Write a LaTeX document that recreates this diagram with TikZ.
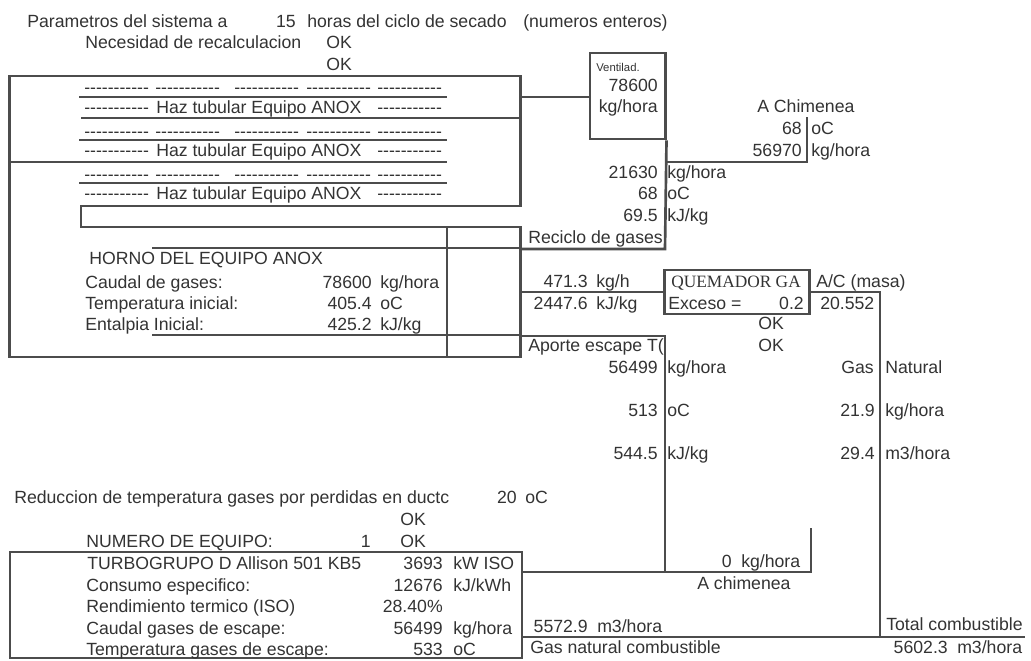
\documentclass[tikz,border=0pt]{standalone}
\usepackage{fontspec}
\setmainfont{Liberation Sans}
\newfontfamily\quemfont{Liberation Serif}
\usepackage{xcolor}
\usepackage{tikz}
\usetikzlibrary{positioning, arrows.meta}
\definecolor{tinta}{gray}{0.2}
\definecolor{linea}{gray}{0.3}
\newcommand{\rayas}{-{}-{}-{}-{}-{}-{}-{}-{}-{}-{}-}
\tikzset{
    txt/.style={inner sep=0pt, text=tinta, yshift=-2.2pt, font=\fontsize{13.25}{15}\selectfont},
    izq/.style={txt, anchor=mid west},
    der/.style={txt, anchor=mid east},
    caja/.style={draw=linea, line width=2pt, inner sep=0pt},
    tubo/.style={draw=linea, line width=2pt},
    fino/.style={draw=linea, line width=1pt}
}

\begin{document}
\begin{tikzpicture}[x=0.75pt,y=-0.75pt]
        \useasboundingbox (0,0) rectangle (1031,660);

        % Boxes
        \node (vent) [caja, minimum width=56.5pt, minimum height=64.5pt] at (627.5,96) {};
        \node (quem) [caja, minimum width=109pt, minimum height=33pt] at (737,292) {};
        \node (turbo) [caja, minimum width=384pt, minimum height=79.5pt] at (266,605) {};

        % Corners of the furnace
        \coordinate (a1) at (9.5,76);
        \coordinate (a2) at (520.5,76);
        \coordinate (a3) at (520.5,206);
        \coordinate (a4) at (81,206);
        \coordinate (a5) at (81,227);
        \coordinate (a6) at (520.5,227);
        \coordinate (a7) at (520.5,357);
        \coordinate (a8) at (9.5,357);
        \coordinate (h1) at (81,118);
        \coordinate (h2) at (520.5,118);
        \coordinate (h3) at (9.5,162);
        \coordinate (h4) at (447,162);
        \coordinate (f1) at (79,97);
        \coordinate (f2) at (447,97);
        \coordinate (f3) at (79,140);
        \coordinate (f4) at (447,140);
        \coordinate (f5) at (79,183);
        \coordinate (f6) at (447,183);
        \coordinate (v1) at (447,227);
        \coordinate (v2) at (447,357);
        \coordinate (g1) at (152,248);
        \coordinate (g2) at (152,335);

        % Other junctions
        \coordinate (sal) at (520.5,97);
        \coordinate (rec1) at (520.5,249);
        \coordinate (rec2) at (665,249);
        \coordinate (chi1) at (665,162);
        \coordinate (chi2) at (807,162);
        \coordinate (chi3) at (807,117);
        \coordinate (aire) at (520.5,292);
        \coordinate (gas1) at (880,292);
        \coordinate (gas2) at (880,637);
        \coordinate (apo1) at (520.5,336);
        \coordinate (apo2) at (665,336);
        \coordinate (apo3) at (665,572);
        \coordinate (esc1) at (811,572);
        \coordinate (esc2) at (811,528);
        \coordinate (com1) at (1025,637);

        % Furnace lines
        \draw[tubo] (a8) -- (a1) -- (a2) -- (a3) -- (a4) -- (a5) -- (a6) -- (a7) -- cycle;
        \draw[tubo] (h1) -- (h2);
        \draw[tubo] (h3) -- (h4);
        \draw[fino] (f1) -- (f2);
        \draw[fino] (f3) -- (f4);
        \draw[fino] (f5) -- (f6);
        \draw[fino] (v1) -- (v2);
        \draw[fino] (g1) -- (g1 -| a6);
        \draw[fino] (g2) -- (g2 -| a6);

        % Pipes
        \draw[tubo] (sal) -- (sal -| vent.west);
        \draw[tubo] (vent.south east) -- (rec2) -- (rec1);
        \draw[tubo] (chi1) -- (chi2) -- (chi3);
        \draw[tubo] (aire) -- (aire -| quem.west);
        \draw[tubo] (quem.east |- gas1) -- (gas1) -- (gas2);
        \draw[tubo] (apo1) -- (apo2) -- (apo3);
        \draw[tubo] (apo3 -| turbo.east) -- (esc1) -- (esc2);
        \draw[tubo] (gas2 -| turbo.east) -- (com1);

        % Header
        \node (par) [izq] at (27,21) {Parametros del sistema a};
        \node (hor) [der] at (296,21) {15};
        \node (cic) [izq] at (307,21) {horas del ciclo de secado};
        \node (ent) [izq] at (523,21) {(numeros enteros)};
        \node (nec) [izq] at (85,42) {Necesidad de recalculacion};
        \node (ok1) [izq] at (326,42) {OK};
        \node (ok2) [izq] at (326,64) {OK};

        % Tube rows
        \foreach \n/\y in {1/87,3/131,5/174} {
            \foreach \m/\x in {a/84,b/155,c/234,d/306,e/377}
                \node (r\n\m) [izq] at (\x,\y) {\rayas};
        }
        \foreach \n/\y in {2/107,4/150,6/193} {
            \node (r\n a) [izq] at (84,\y) {\rayas};
            \node (r\n b) [izq] at (156,\y) {Haz tubular Equipo ANOX};
            \node (r\n c) [izq] at (377,\y) {\rayas};
        }

        % Furnace text
        \node (hno) [izq] at (89,258) {HORNO DEL EQUIPO ANOX};
        \node (cau) [izq] at (85,282) {Caudal de gases:};
        \node (cau2) [der] at (372,282) {78600};
        \node (cau3) [izq] at (380,282) {kg/hora};
        \node (tem) [izq] at (85,303) {Temperatura inicial:};
        \node (tem2) [der] at (372,303) {405.4};
        \node (tem3) [izq] at (380,303) {oC};
        \node (ntl) [izq] at (85,324) {Entalpia Inicial:};
        \node (ntl2) [der] at (372,324) {425.2};
        \node (ntl3) [izq] at (380,324) {kJ/kg};

        % Fan and stack
        \node (ven1) [izq, font=\fontsize{8.5}{10}\selectfont] at (596,65) {Ventilad.};
        \node (ven2) [der] at (658,85) {78600};
        \node (ven3) [der] at (658,106) {kg/hora};
        \node (chi) [izq] at (757,106) {A Chimenea};
        \node (chit) [der] at (802,128) {68};
        \node (chiu) [izq] at (811,128) {oC};
        \node (chim) [der] at (802,150) {56970};
        \node (chik) [izq] at (811,150) {kg/hora};

        % Recycle
        \node (rem) [der] at (658,172) {21630};
        \node (remu) [izq] at (667,172) {kg/hora};
        \node (ret) [der] at (658,193) {68};
        \node (retu) [izq] at (667,193) {oC};
        \node (reh) [der] at (658,215) {69.5};
        \node (rehu) [izq] at (667,215) {kJ/kg};
        \node (rec) [izq] at (528,237) {Reciclo de gases};

        % Burner
        \node (air1) [der] at (588,281) {471.3};
        \node (air2) [izq] at (596,281) {kg/h};
        \node (air3) [der] at (588,303) {2447.6};
        \node (air4) [izq] at (596,303) {kJ/kg};
        \node (que) [izq, font=\quemfont\fontsize{13}{15}\selectfont] at (671,281) {QUEMADOR GA};
        \node (exc) [izq] at (668,303) {Exceso =};
        \node (exv) [der] at (804,303) {0.2};
        \node (ac1) [izq] at (816,281) {A/C (masa)};
        \node (ac2) [izq] at (820,303) {20.552};
        \node (ok3) [izq] at (758,323) {OK};
        \node (ok4) [izq] at (758,345) {OK};

        % Exhaust input
        \node (apo) [izq] at (528,345) {Aporte escape T(};
        \node (apm) [der] at (658,367) {56499};
        \node (apmu) [izq] at (667,367) {kg/hora};
        \node (apt) [der] at (658,410) {513};
        \node (aptu) [izq] at (667,410) {oC};
        \node (aph) [der] at (658,453) {544.5};
        \node (aphu) [izq] at (667,453) {kJ/kg};

        % Natural gas
        \node (gn1) [der] at (874,367) {Gas};
        \node (gn2) [izq] at (885,367) {Natural};
        \node (gm) [der] at (875,410) {21.9};
        \node (gmu) [izq] at (885,410) {kg/hora};
        \node (gv) [der] at (875,453) {29.4};
        \node (gvu) [izq] at (885,453) {m3/hora};

        % Duct losses
        \node (red) [izq] at (14,497) {Reduccion de temperatura gases por perdidas en ductc};
        \node (red2) [der] at (517,497) {20};
        \node (red3) [izq] at (525,497) {oC};
        \node (ok5) [izq] at (400,519) {OK};
        \node (num) [izq] at (86,541) {NUMERO DE EQUIPO:};
        \node (num2) [der] at (371,541) {1};
        \node (ok6) [izq] at (400,541) {OK};

        % Turbine
        \node (tu1) [izq] at (87,563) {TURBOGRUPO D Allison 501 KB5};
        \node (tu1a) [der] at (443,563) {3693};
        \node (tu1b) [izq] at (453,563) {kW ISO};
        \node (tu2) [izq] at (86,585) {Consumo especifico:};
        \node (tu2a) [der] at (443,585) {12676};
        \node (tu2b) [izq] at (453,585) {kJ/kWh};
        \node (tu3) [izq] at (86,606) {Rendimiento termico (ISO)};
        \node (tu3a) [der] at (443,606) {28.40\%};
        \node (tu4) [izq] at (86,628) {Caudal gases de escape:};
        \node (tu4a) [der] at (443,628) {56499};
        \node (tu4b) [izq] at (453,628) {kg/hora};
        \node (tu5) [izq] at (86,649) {Temperatura gases de escape:};
        \node (tu5a) [der] at (443,649) {533};
        \node (tu5b) [izq] at (453,649) {oC};

        % Bottom labels
        \node (cer) [der] at (732,561) {0};
        \node (ceru) [izq] at (741,561) {kg/hora};
        \node (ach) [izq] at (697,583) {A chimenea};
        \node (vol) [der] at (588,626) {5572.9};
        \node (volu) [izq] at (597,626) {m3/hora};
        \node (gnc) [izq] at (530,647) {Gas natural combustible};
        \node (tot) [izq] at (886,624) {Total combustible};
        \node (tot2) [der] at (948,647) {5602.3};
        \node (tot3) [izq] at (957,647) {m3/hora};

    \end{tikzpicture}
\end{document}
